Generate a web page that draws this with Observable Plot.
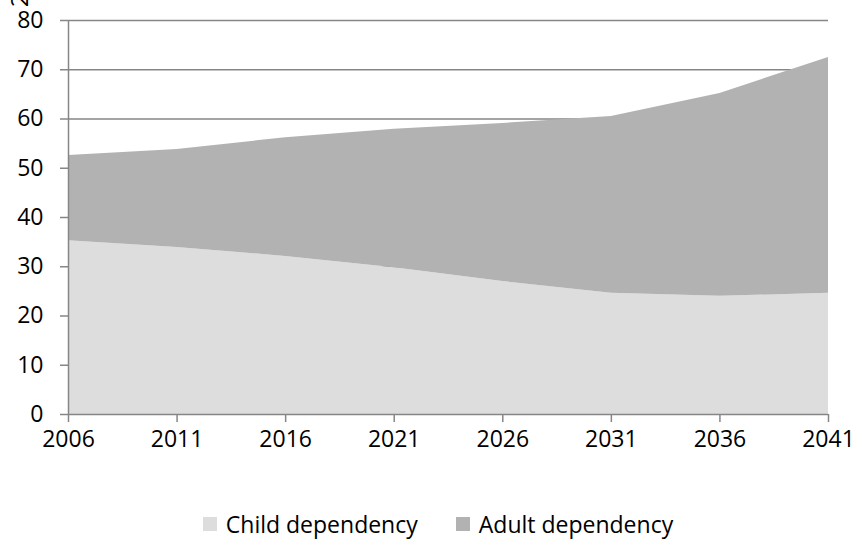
<!DOCTYPE html>
<html>
<head>
<meta charset="utf-8">
<script src="https://cdn.jsdelivr.net/npm/d3@7"></script>
<script src="https://cdn.jsdelivr.net/npm/@observablehq/plot@0.6"></script>
<style>
  html, body { margin: 0; padding: 0; background: #fff; overflow: hidden; }
  #wrap { position: relative; width: 854px; height: 539px; font-family: "Open Sans", sans-serif; }
  #legend { position: absolute; left: 0; width: 854px; top: 509px; display: flex; justify-content: center; gap: 38px; font-size: 23px; line-height: 30px; color: #000; padding-left: 22px; box-sizing: border-box; white-space: nowrap; }
  .item { display: flex; align-items: center; gap: 9px; flex: none; }
  .sw { width: 14px; height: 14px; display: inline-block; }
  #cut { position: absolute; left: 12px; top: -16px; font-size: 24px; transform: rotate(-90deg); transform-origin: center; }
</style>
</head>
<body>
<div id="wrap">
  <div id="chart"></div>
  <div id="cut">2</div>
  <div id="legend"></div>
</div>
<script>
const years = [2006, 2011, 2016, 2021, 2026, 2031, 2036, 2041];
const childDependency = [35.3, 33.9, 32.1, 29.8, 27.0, 24.6, 24.0, 24.6];
const adultDependency = [17.3, 19.9, 24.1, 28.1, 32.1, 35.9, 41.2, 47.9];
const seriesNames = ["Child dependency", "Adult dependency"];
const seriesColors = ["#dddddd", "#b2b2b2"];
const yTicks = [0, 10, 20, 30, 40, 50, 60, 70, 80];
const gridTicks = [10, 20, 30, 40, 50, 60, 70, 80];

const data = [];
years.forEach((yr, i) => {
  data.push({year: yr, series: seriesNames[0], value: childDependency[i]});
  data.push({year: yr, series: seriesNames[1], value: adultDependency[i]});
});

const axisColor = "#868686";

const chart = Plot.plot({
  width: 854,
  height: 470,
  marginLeft: 68,
  marginRight: 26,
  marginTop: 20,
  marginBottom: 56,
  style: {fontFamily: "Open Sans, sans-serif", fontSize: "23px", color: "#000", background: "#fff"},
  x: {domain: [2006, 2041], label: null},
  y: {domain: [0, 80], label: null},
  color: {domain: seriesNames, range: seriesColors},
  marks: [
    Plot.ruleY(gridTicks, {stroke: axisColor, strokeWidth: 1.5}),
    Plot.areaY(data, {x: "year", y: "value", fill: "series", order: seriesNames}),
    Plot.axisY({ticks: yTicks, tickSize: 8, tickPadding: 17, fontSize: 23, stroke: axisColor, strokeWidth: 1.5, strokeOpacity: 1, tickFormat: d => String(d), fill: "#000"}),
    Plot.axisX({ticks: years, tickSize: 8, tickPadding: 8, fontSize: 23, stroke: axisColor, strokeWidth: 1.5, strokeOpacity: 1, tickFormat: d => String(d), fill: "#000"}),
    Plot.ruleX([2006], {y1: 0, y2: 80, stroke: axisColor, strokeWidth: 1.5}),
    Plot.ruleY([0], {stroke: axisColor, strokeWidth: 1.5})
  ]
});
document.getElementById("chart").appendChild(chart);

const legend = document.getElementById("legend");
seriesNames.forEach((name, i) => {
  const item = document.createElement("div");
  item.className = "item";
  const sw = document.createElement("span");
  sw.className = "sw";
  sw.style.background = seriesColors[i];
  const label = document.createElement("span");
  label.textContent = name;
  item.appendChild(sw);
  item.appendChild(label);
  legend.appendChild(item);
});
</script>
</body>
</html>
